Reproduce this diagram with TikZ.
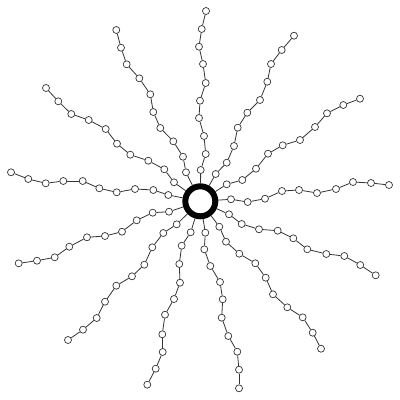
\documentclass[tikz,border=0pt]{standalone}
\usepackage{tikz}

\tikzset{
  core/.style={draw,circle,line width=6pt,minimum size=30pt,inner sep=0pt},
  bead/.style={draw=black!80,circle,fill=white,line width=0.7pt,minimum size=7pt,inner sep=0pt},
  link/.style={black!80,line width=0.8pt}
}

\begin{document}
\begin{tikzpicture}[x=1pt,y=-1pt]
    \useasboundingbox (0,0) rectangle (400,400);

    \node[core] (core) at (200.3,201.3) {};

    % arms, listed from the core outwards
    \foreach \arm/\pts in {
      a/{(200.7,170),(205.7,154),(204,136),(199,118),(200,100.7),(205.7,83),(203,64),(199,46.7),(201.7,29),(206,11)},
      b/{(215.7,174),(226.7,162.7),(234,146),(237.7,127.7),(247.3,112.7),(260,100),(267.3,81.7),(271,64),(281.7,50),(294,35.7)},
      c/{(226.7,184.3),(242.3,180),(256,168.7),(268,153.7),(282.7,145.3),(300,140),(315,127),(327,113.3),(343.3,105),(360,98.7)},
      d/{(231,199.3),(247.7,202),(265,198.7),(282,191),(299,190),(317,193),(336,189),(353,182),(371,183),(389,185)},
      e/{(229,214.3),(241.7,224),(259,229.3),(277.7,230.7),(293.3,238.3),(307.3,249.3),(326.3,254),(344.3,256),(360.3,265),(375.7,275.3)},
      f/{(219.3,226.7),(226,241.7),(239.3,253.7),(255.3,263.3),(265.7,277.7),(273,294.3),(287.3,307.3),(302.7,317.3),(312.7,332.7),(321,348.7)},
      g/{(205.3,232.7),(204.3,249.3),(210.3,266),(220,282),(222.7,299.3),(221.7,317.7),(228.3,336),(237.3,351.7),(239,369.7),(239,388.3)},
      h/{(190.7,232.3),(181.7,245.7),(179.3,264),(180,282.7),(174,299),(165,314.7),(162.3,334.3),(162.7,352),(155.7,368.7),(147.3,384.7)},
      i/{(176.7,224.3),(163.3,233),(152.3,247.3),(144.3,264.7),(132,276.3),(116.3,285.7),(105,301.7),(96.7,318),(83,329.7),(68,340)},
      j/{(169,211.7),(152.7,212.7),(136.7,220.3),(122,231.7),(105,236),(87,237.3),(69.3,246.7),(54.7,257.3),(37,260.7),(18.7,263.3)},
      k/{(168.3,195),(153.3,190),(135,189),(116.7,192.3),(99.3,188.3),(82.7,181),(63.3,181),(45.7,183.3),(28.3,179),(11,172.3)},
      l/{(174,182.3),(164.3,169.3),(148.3,160.7),(130.3,154.7),(117,143.7),(105.7,129),(88.7,120),(71.3,114),(58.3,101.3),(46,88)},
      m/{(186,172.3),(183,156.7),(173.3,141.3),(160.3,128),(153.3,112),(150.3,94.3),(139.3,78.3),(126.7,64.3),(121,47.7),(116.3,30)}}{
      \foreach \p [count=\i] in \pts
        \node[bead] (\arm\i) at \p {};
      \draw[link] (core) -- (\arm1);
      \foreach \i [remember=\i as \j (initially 1)] in {2,...,10}
        \draw[link] (\arm\j) -- (\arm\i);
    }

  \end{tikzpicture}
\end{document}
